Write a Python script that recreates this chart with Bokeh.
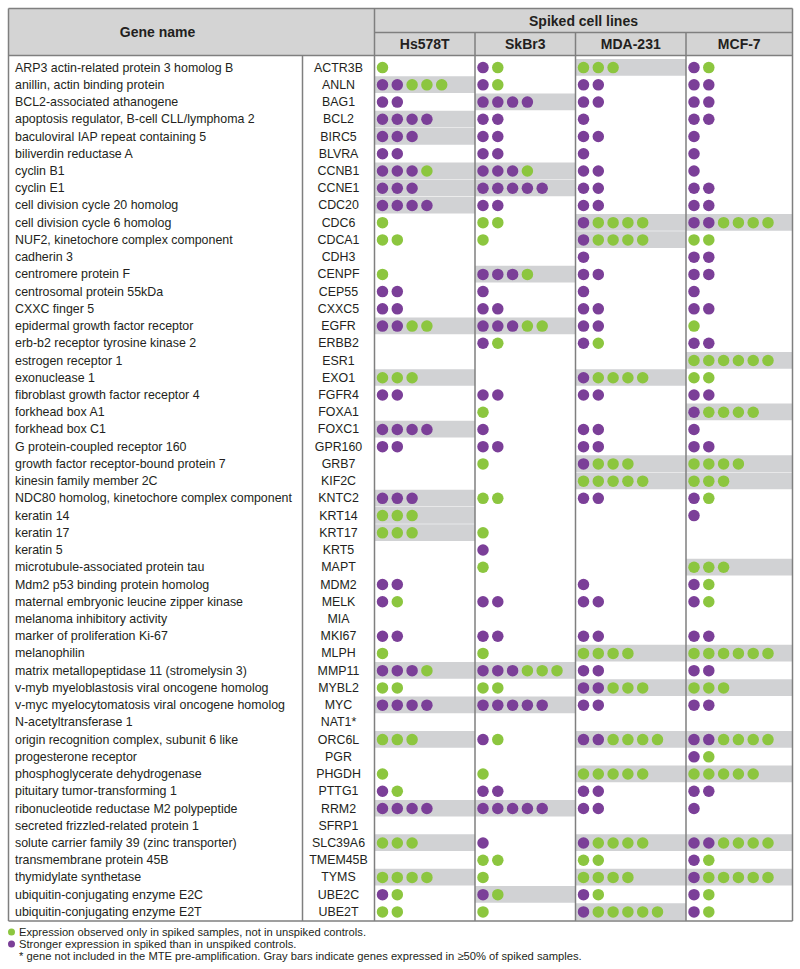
from bokeh.plotting import figure
from bokeh.models import Range1d
from bokeh.core.properties import value
from bokeh.embed import file_html
from bokeh.resources import INLINE

# ---------------- data ----------------
gene_names = [
    "ARP3 actin-related protein 3 homolog B",
    "anillin, actin binding protein",
    "BCL2-associated athanogene",
    "apoptosis regulator, B-cell CLL/lymphoma 2",
    "baculoviral IAP repeat containing 5",
    "biliverdin reductase A",
    "cyclin B1",
    "cyclin E1",
    "cell division cycle 20 homolog",
    "cell division cycle 6 homolog",
    "NUF2, kinetochore complex component",
    "cadherin 3",
    "centromere protein F",
    "centrosomal protein 55kDa",
    "CXXC finger 5",
    "epidermal growth factor receptor",
    "erb-b2 receptor tyrosine kinase 2",
    "estrogen receptor 1",
    "exonuclease 1",
    "fibroblast growth factor receptor 4",
    "forkhead box A1",
    "forkhead box C1",
    "G protein-coupled receptor 160",
    "growth factor receptor-bound protein 7",
    "kinesin family member 2C",
    "NDC80 homolog, kinetochore complex component",
    "keratin 14",
    "keratin 17",
    "keratin 5",
    "microtubule-associated protein tau",
    "Mdm2 p53 binding protein homolog",
    "maternal embryonic leucine zipper kinase",
    "melanoma inhibitory activity",
    "marker of proliferation Ki-67",
    "melanophilin",
    "matrix metallopeptidase 11 (stromelysin 3)",
    "v-myb myeloblastosis viral oncogene homolog",
    "v-myc myelocytomatosis viral oncogene homolog",
    "N-acetyltransferase 1",
    "origin recognition complex, subunit 6 like",
    "progesterone receptor",
    "phosphoglycerate dehydrogenase",
    "pituitary tumor-transforming 1",
    "ribonucleotide reductase M2 polypeptide",
    "secreted frizzled-related protein 1",
    "solute carrier family 39 (zinc transporter)",
    "transmembrane protein 45B",
    "thymidylate synthetase",
    "ubiquitin-conjugating enzyme E2C",
    "ubiquitin-conjugating enzyme E2T",
]
gene_symbols = [
    "ACTR3B", "ANLN", "BAG1", "BCL2", "BIRC5", "BLVRA", "CCNB1", "CCNE1", "CDC20", "CDC6",
    "CDCA1", "CDH3", "CENPF", "CEP55", "CXXC5", "EGFR", "ERBB2", "ESR1", "EXO1", "FGFR4",
    "FOXA1", "FOXC1", "GPR160", "GRB7", "KIF2C", "KNTC2", "KRT14", "KRT17", "KRT5", "MAPT",
    "MDM2", "MELK", "MIA", "MKI67", "MLPH", "MMP11", "MYBL2", "MYC", "NAT1*", "ORC6L",
    "PGR", "PHGDH", "PTTG1", "RRM2", "SFRP1", "SLC39A6", "TMEM45B", "TYMS", "UBE2C", "UBE2T",
]
cell_lines = ["Hs578T", "SkBr3", "MDA-231", "MCF-7"]

# P = stronger expression in spiked (purple), G = only in spiked (green)
hs578t_dots = [
    "G", "PPGGG", "PP", "PPPP", "PPP", "PP", "PPPG", "PPP", "PPPP", "G",
    "GG", "", "G", "PP", "PP", "PPGG", "", "", "GGG", "PP",
    "", "PPPP", "PP", "", "", "PPP", "GGG", "GGG", "", "",
    "PP", "PG", "", "PP", "G", "PPPG", "GG", "PPPP", "", "GGG",
    "", "G", "PG", "PPPP", "", "GGG", "", "GGGG", "PG", "GG",
]
skbr3_dots = [
    "PG", "PG", "PPPP", "PP", "PP", "PP", "PPPG", "PPPPP", "PP", "GG",
    "G", "", "PPPG", "P", "PP", "PPPGG", "PG", "", "", "PP",
    "G", "P", "PP", "G", "", "GG", "", "G", "P", "G",
    "", "PP", "", "PP", "G", "PPPGGG", "GG", "PPPPP", "", "PG",
    "", "G", "PP", "PPPPP", "", "P", "GG", "G", "PG", "G",
]
mda231_dots = [
    "GGG", "PP", "PP", "P", "PP", "P", "PP", "PP", "PP", "PGGGG",
    "PGGGG", "P", "PP", "P", "PP", "PP", "PG", "", "PGGGG", "PP",
    "", "PP", "PP", "PGGG", "GGGGG", "PP", "", "", "", "",
    "P", "PP", "", "PP", "GGGG", "PP", "PPGGG", "PP", "", "PPGGGG",
    "", "GGGGG", "PP", "PP", "", "PGGGG", "GG", "GGGG", "PG", "PGGGGG",
]
mcf7_dots = [
    "PG", "PP", "PP", "PP", "P", "P", "P", "PP", "PP", "PPGGGG",
    "GG", "PP", "PP", "P", "PP", "G", "PP", "GGGGGG", "GG", "PP",
    "PGGGG", "P", "PP", "GGGG", "GGG", "PG", "P", "", "", "GGG",
    "PG", "PG", "", "PP", "GGGGGG", "PP", "GGG", "PP", "", "PPGGGG",
    "PG", "GGGGG", "PP", "P", "", "PPGGGG", "PG", "PGGGGG", "PG", "PG",
]
# genes expressed in >=50% of spiked samples (gray bars)
hs578t_gray = ["ANLN", "BCL2", "BIRC5", "CCNB1", "CCNE1", "CDC20", "EGFR", "EXO1", "FOXC1",
               "KNTC2", "KRT14", "KRT17", "MMP11", "MYC", "ORC6L", "RRM2", "SLC39A6", "TYMS"]
skbr3_gray = ["BAG1", "CCNB1", "CCNE1", "CENPF", "EGFR", "MMP11", "MYC", "RRM2", "UBE2C"]
mda231_gray = ["ACTR3B", "CDC6", "CDCA1", "EXO1", "GRB7", "KIF2C", "MLPH", "MYBL2", "ORC6L",
               "PHGDH", "SLC39A6", "TYMS", "UBE2T"]
mcf7_gray = ["CDC6", "ESR1", "FOXA1", "GRB7", "KIF2C", "MAPT", "MLPH", "MYBL2", "ORC6L",
             "PHGDH", "SLC39A6", "TYMS"]

legend_texts = [
    "Expression observed only in spiked samples, not in unspiked controls.",
    "Stronger expression in spiked than in unspiked controls.",
    "* gene not included in the MTE pre-amplification. Gray bars indicate genes expressed in \u226550% of spiked samples.",
]

# ---------------- layout / style ----------------
PURPLE = "#7b3f98"
GREEN = "#8cc63f"
BAR_GRAY = "#d1d2d4"
HEAD_GRAY = "#d4d4d4"
LINE = "#7f7f7f"
TXT = "#231f20"
FONT = value("Liberation Sans")

left, right, top = 8.0, 792.0, 8.0
head_mid, head_bot = 32.0, 55.0
rows_top, row_h = 58.5, 17.23
n = len(gene_names)
table_bot = rows_top + n * row_h + 0.5
sym_x = 302.0
col_edges = [374.0, 474.5, 575.0, 685.5, right]
dot_off, dot_step, dot_size = 8.0, 14.8, 11.5

p = figure(width=800, height=969, x_range=Range1d(0, 800), y_range=Range1d(969, 0),
           toolbar_location=None, output_backend="svg", min_border=0,
           x_axis_type=None, y_axis_type=None)
p.outline_line_color = None
p.grid.visible = False
p.background_fill_color = "white"
p.border_fill_color = "white"

def row_center(i):
    return rows_top + (i + 0.5) * row_h

# header background
p.quad(left=[left], right=[right], top=[top], bottom=[head_bot], fill_color=HEAD_GRAY, line_color=None)

# gray bars and dots
all_dots = [hs578t_dots, skbr3_dots, mda231_dots, mcf7_dots]
all_gray = [hs578t_gray, skbr3_gray, mda231_gray, mcf7_gray]
ql, qr, qt, qb = [], [], [], []
dx, dy, dc = [], [], []
for c in range(4):
    cl, cr = col_edges[c], col_edges[c + 1]
    for i, sym in enumerate(gene_symbols):
        if sym in all_gray[c]:
            ql.append(cl); qr.append(cr)
            qt.append(rows_top + i * row_h); qb.append(rows_top + (i + 1) * row_h - 0.5)
        for j, ch in enumerate(all_dots[c][i]):
            dx.append(cl + dot_off + j * dot_step)
            dy.append(row_center(i))
            dc.append(PURPLE if ch == "P" else GREEN)
p.quad(left=ql, right=qr, top=qt, bottom=qb, fill_color=BAR_GRAY, line_color=None)

# table lines
sx0 = [left, left, col_edges[0], left, left, right, sym_x, col_edges[0]] + col_edges[1:4]
sx1 = [right, right, right, right, left, right, sym_x, col_edges[0]] + col_edges[1:4]
sy0 = [top, head_bot, head_mid, table_bot, top, top, head_bot, top] + [head_mid] * 3
sy1 = [top, head_bot, head_mid, table_bot, table_bot, table_bot, table_bot, table_bot] + [table_bot] * 3
p.segment(x0=sx0, y0=sy0, x1=sx1, y1=sy1, line_color=LINE, line_width=1.5)

p.scatter(x=dx, y=dy, size=dot_size, fill_color=dc, line_color=None, marker="circle")

# header texts
p.text(x=[(left + sym_x) / 2 + 2], y=[(top + head_bot) / 2], text=["Gene name"],
       text_font=FONT, text_font_style="bold", text_font_size="14px",
       text_align="center", text_baseline="middle", text_color=TXT)
p.text(x=[(col_edges[0] + right) / 2], y=[(top + head_mid) / 2], text=["Spiked cell lines"],
       text_font=FONT, text_font_style="bold", text_font_size="14px",
       text_align="center", text_baseline="middle", text_color=TXT)
p.text(x=[(col_edges[k] + col_edges[k + 1]) / 2 for k in range(4)],
       y=[(head_mid + head_bot) / 2] * 4, text=cell_lines,
       text_font=FONT, text_font_style="bold", text_font_size="14px",
       text_align="center", text_baseline="middle", text_color=TXT)

# gene rows
ys = [row_center(i) for i in range(n)]
p.text(x=[14.5] * n, y=ys, text=gene_names, text_font=FONT, text_font_size="12.4px",
       text_align="left", text_baseline="middle", text_color=TXT)
p.text(x=[(sym_x + col_edges[0]) / 2] * n, y=ys, text=gene_symbols, text_font=FONT,
       text_font_size="12.4px", text_align="center", text_baseline="middle", text_color=TXT)

# footer legend
ly = [931.5, 943.5, 955.5]
p.scatter(x=[11, 11], y=ly[:2], size=7, fill_color=[GREEN, PURPLE], line_color=None, marker="circle")
p.text(x=[18.5] * 3, y=ly, text=legend_texts, text_font=FONT, text_font_size="11.2px",
       text_align="left", text_baseline="middle", text_color=TXT)

open("out.html", "w").write(file_html(p, INLINE))
